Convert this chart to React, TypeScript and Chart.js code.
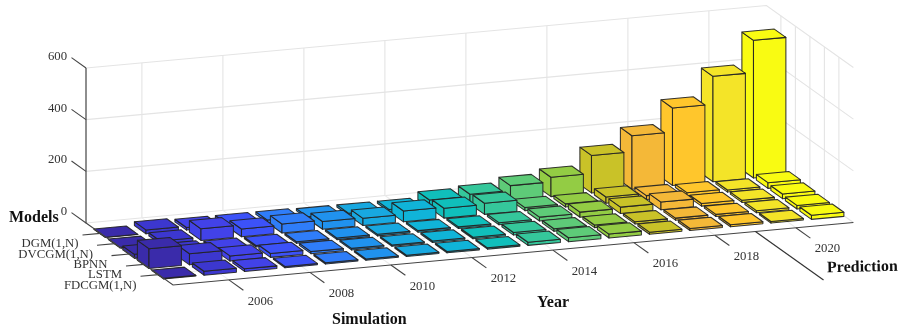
import React, { useEffect, useRef } from "react";
import { Chart, registerables } from "chart.js";

Chart.register(...registerables);

const years = [2005, 2006, 2007, 2008, 2009, 2010, 2011, 2012, 2013, 2014, 2015, 2016, 2017, 2018, 2019, 2020, 2021];
const models = ["DGM(1,N)", "DVCGM(1,N)", "BPNN", "LSTM", "FDCGM(1,N)"];
const yearTicks = [2006, 2008, 2010, 2012, 2014, 2016, 2018, 2020];
const valueTicks = [0, 200, 400, 600];

const dgm = [1, 15, 10, 10, 10, 8, 8, 8, 30, 38, 57, 75, 145, 207, 300, 408, 533];
const dvcgm = [2, 12, 45, 30, 35, 30, 28, 42, 38, 43, 12, 12, 24, 15, 12, 8, 22];
const bpnn = [15, 10, 6, 6, 6, 6, 6, 6, 6, 8, 15, 20, 25, 30, 10, 8, 18];
const lstm = [77, 43, 20, 15, 8, 6, 5, 6, 6, 10, 10, 10, 8, 8, 8, 8, 14];
const fdcgm = [2, 15, 10, 5, 5, 5, 5, 5, 5, 12, 15, 15, 8, 8, 8, 6, 16];
const seriesValues = [dgm, dvcgm, bpnn, lstm, fdcgm];

const yearColors = [
  "#3A2BAA", "#3C37CF", "#4242E8", "#3C52F8", "#2F7DF9", "#2092EE", "#18A8E0", "#10B4D8", "#10BFBB",
  "#35C79B", "#5ECB78", "#93CC44", "#C9C228", "#F4B838", "#FFC62C", "#F4E428", "#F9FB12",
];

const Y0 = 2004.62;
const Y1 = 2021.42;
const ROWS = 6;
const Z_MAX = 600;
const BAR = 0.4;

// oblique projection: a (year, model row, value) triple onto the sheared year / value scales
const shearRow = 0.358;
const shearYearZ = 14.4;
const shearRowZ = 40;
const P = (yr: number, row: number, val: number) => ({
  x: yr + shearRow * row,
  y: val + shearYearZ * (yr - Y0) - shearRowZ * row,
});

const GRID = "#e4e4e4";
const FLOOR = "#ececec";
const AXIS = "#444444";
const EDGE = "rgba(35,35,35,0.92)";

export default function App() {
  const ref = useRef<HTMLCanvasElement>(null);
  useEffect(() => {
    document.body.style.margin = "0";
    const datasets: any[] = [];
    const seq: any[] = [];
    const line = (pts: any[], color: string, width: number) =>
      seq.push({
        data: pts,
        borderColor: color,
        borderWidth: width,
        pointRadius: 0,
        tension: 0,
        fill: false,
        clip: false,
      });
    const face = (pts: any[], color: string) =>
      seq.push({
        data: [...pts, pts[0]],
        borderColor: EDGE,
        borderWidth: 1.05,
        backgroundColor: color,
        pointRadius: 0,
        tension: 0,
        fill: "shape",
        clip: false,
        borderJoinStyle: "round",
      });

    // walls and floor
    valueTicks.forEach((z) => {
      line([P(Y0, 0, z), P(Y1, 0, z), P(Y1, ROWS, z)], GRID, 1.1);
    });
    yearTicks.forEach((y) => {
      line([P(y, ROWS, 0), P(y, 0, 0)], FLOOR, 1.1);
      line([P(y, 0, 0), P(y, 0, Z_MAX)], GRID, 1.1);
    });
    models.forEach((_, i) => {
      const r = i + 1;
      line([P(Y0, r, 0), P(Y1, r, 0)], FLOOR, 1.1);
      line([P(Y1, r, 0), P(Y1, r, Z_MAX)], GRID, 1.1);
    });

    // bars: far columns first, back rows first
    for (let c = years.length - 1; c >= 0; c--) {
      for (let m = 0; m < models.length; m++) {
        const yr = years[c];
        const r = m + 1;
        const v = seriesValues[m][c];
        const col = yearColors[c];
        const a = yr - BAR;
        const b = yr + BAR;
        const f = r + BAR;
        const k = r - BAR;
        face([P(a, k, 0), P(a, f, 0), P(a, f, v), P(a, k, v)], col);
        face([P(a, f, 0), P(b, f, 0), P(b, f, v), P(a, f, v)], col);
        face([P(a, k, v), P(a, f, v), P(b, f, v), P(b, k, v)], col);
      }
    }

    // axes
    line([P(Y0, 0, Z_MAX), P(Y0, 0, 0), P(Y0, ROWS, 0), P(Y1, ROWS, 0)], AXIS, 1.2);
    valueTicks.forEach((z) => line([P(Y0, 0, z), P(Y0, -1, z)], AXIS, 1.1));
    yearTicks.forEach((y) => line([P(y, ROWS, 0), P(y, ROWS + 1, 0)], AXIS, 1.1));
    models.forEach((_, i) => line([P(Y0, i + 1, 0), P(Y0 - 0.444, i + 1, 0)], AXIS, 1.1));
    line([P(2019, ROWS, 0), P(2019, ROWS + 4.7, 0)], "#333", 1.2);

    seq.forEach((d, i) => datasets.push({ ...d, order: seq.length - i }));

    const labels = {
      id: "labels",
      afterDraw(chart: any) {
        const { ctx, scales } = chart;
        const at = (p: { x: number; y: number }) => [scales.x.getPixelForValue(p.x), scales.y.getPixelForValue(p.y)];
        ctx.save();
        ctx.textBaseline = "middle";
        ctx.fillStyle = "#333333";
        ctx.font = '12.75px "Liberation Serif"';
        ctx.textAlign = "right";
        valueTicks.forEach((z) => {
          const [x, y] = at(P(Y0, -1, z));
          ctx.fillText(String(z), x - 4.5, y - 1);
        });
        models.forEach((m, i) => {
          const [x, y] = at(P(Y0 - 0.444, i + 1, 0));
          ctx.fillText(m, x - 4, y + 9);
        });
        ctx.textAlign = "center";
        yearTicks.forEach((yr) => {
          const [x, y] = at(P(yr, ROWS + 1, 0));
          ctx.fillText(String(yr), x + 17, y + 11);
        });
        ctx.fillStyle = "#111111";
        ctx.font = 'bold 16px "Liberation Serif"';
        ctx.textAlign = "left";
        ctx.fillText("Models", 9, 218);
        ctx.fillText("Year", 537, 303);
        ctx.fillText("Simulation", 332, 320);
        ctx.save();
        ctx.translate(827, 268);
        ctx.rotate(-0.02);
        ctx.fillText("Prediction", 0, 0);
        ctx.restore();
        ctx.restore();
      },
    };

    const pxPerYear = 40.5;
    const unitsPerPx = 3.871;
    const chart = new Chart(ref.current as HTMLCanvasElement, {
      type: "line",
      data: { datasets },
      options: {
        animation: false,
        responsive: false,
        events: [],
        layout: { padding: 0 },
        plugins: { legend: { display: false }, tooltip: { enabled: false } },
        scales: {
          x: { type: "linear", display: false, min: Y0 - 86 / pxPerYear, max: Y0 + (907 - 86) / pxPerYear },
          y: { type: "linear", display: false, min: -(331 - 223) * unitsPerPx, max: 223 * unitsPerPx },
        },
      },
      plugins: [labels],
    } as any);
    return () => chart.destroy();
  }, []);
  return <canvas ref={ref} width={907} height={331} style={{ display: "block", filter: "blur(0.35px)" }} />;
}
